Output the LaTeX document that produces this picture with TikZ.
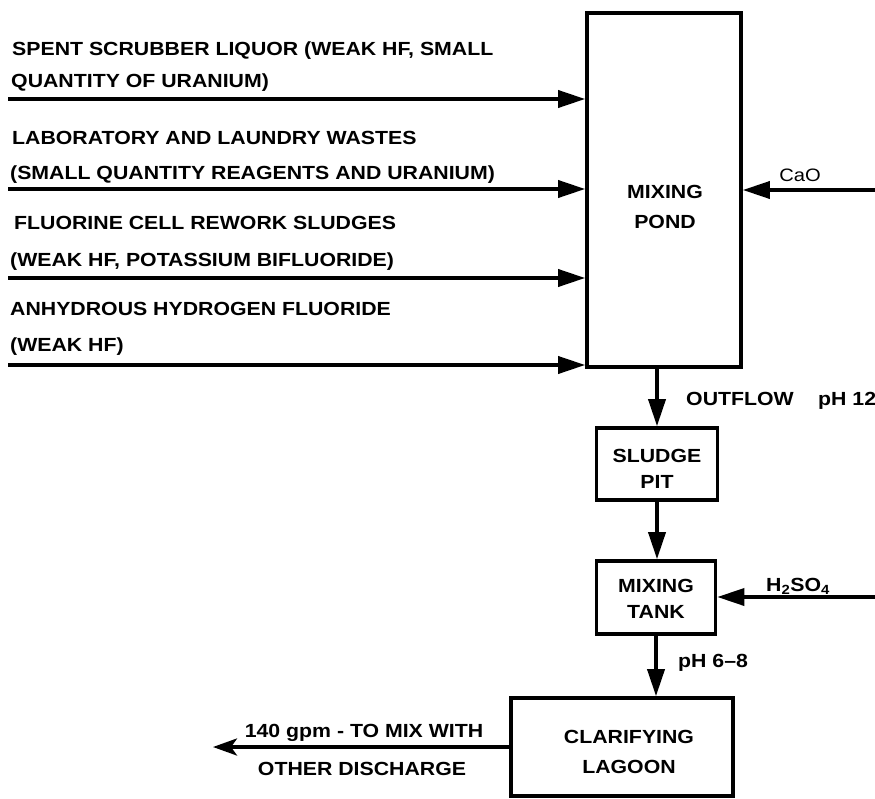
\documentclass[tikz,border=0pt]{standalone}
\usepackage{fontspec}
\setmainfont[FakeStretch=1.12]{Liberation Sans}
\usetikzlibrary{arrows.meta}
\begin{document}
\begin{tikzpicture}[x=1pt,y=-1pt,
  txt/.style={font=\bfseries\fontsize{19}{22}\selectfont, inner sep=0pt},
  lbl/.style={txt, anchor=base west},
  cl/.style={txt, anchor=base},
  box/.style={draw, line width=3.6pt, inner sep=0pt},
  flow/.style={line width=3.6pt, -{Triangle[length=27pt,width=17pt]}},
  outflow/.style={line width=3.6pt, -{Stealth[length=24pt,width=17pt,inset=6pt]}},
]
\useasboundingbox[fill=white] (0,0) rectangle (875,798);
% boxes
\node[box, minimum width=154pt, minimum height=354pt] (pond) at (664,190) {};
\node[cl] (pondl1) at (665,198) {MIXING};
\node[cl] (pondl2) at (665,228) {POND};
\node[box, minimum width=121pt, minimum height=72pt] (pit) at (657,464) {};
\node[cl] (pitl1) at (657,462) {SLUDGE};
\node[cl] (pitl2) at (657,488) {PIT};
\node[box, minimum width=119pt, minimum height=73pt] (tank) at (656,597.5) {};
\node[cl] (tankl1) at (656,592) {MIXING};
\node[cl] (tankl2) at (656,618) {TANK};
\node[box, minimum width=222pt, minimum height=98pt] (lagoon) at (622,747) {};
\node[cl] (lagl1) at (629,743) {CLARIFYING};
\node[cl] (lagl2) at (629,773) {LAGOON};
% input labels
\node[lbl] (a1) at (12,55) {SPENT SCRUBBER LIQUOR (WEAK HF, SMALL};
\node[lbl] (a2) at (11,87) {QUANTITY OF URANIUM)};
\node[lbl] (b1) at (12,144) {LABORATORY AND LAUNDRY WASTES};
\node[lbl] (b2) at (10,179) {(SMALL QUANTITY REAGENTS AND URANIUM)};
\node[lbl] (c1) at (14,229) {FLUORINE CELL REWORK SLUDGES};
\node[lbl] (c2) at (10,266) {(WEAK HF, POTASSIUM BIFLUORIDE)};
\node[lbl] (d1) at (10,315) {ANHYDROUS HYDROGEN FLUORIDE};
\node[lbl] (d2) at (10,351) {(WEAK HF)};
% input arrows
\coordinate (s1) at (8,99);
\coordinate (s2) at (8,189);
\coordinate (s3) at (8,278);
\coordinate (s4) at (8,365);
\draw[flow] (s1) -- (s1 -| pond.west);
\draw[flow] (s2) -- (s2 -| pond.west);
\draw[flow] (s3) -- (s3 -| pond.west);
\draw[flow] (s4) -- (s4 -| pond.west);
% CaO
\coordinate (cao) at (876,190);
\draw[flow] (cao) -- (cao -| pond.east);
\node[txt, font=\fontsize{18}{21}\selectfont, anchor=base] (caolbl) at (800,181) {CaO};
% outflow
\draw[flow] (pond.south -| pit.north) -- (pit.north);
\node[lbl] (outlbl) at (686,405) {OUTFLOW};
\node[lbl] (ph12) at (818,405) {pH 12};
\draw[flow] (pit.south) -- (pit.south |- tank.north);
% H2SO4
\coordinate (h2) at (876,597);
\draw[flow] (h2) -- (h2 -| tank.east);
\node[txt, anchor=base west] (h2lbl) at (766,591) {H\textsubscript{2}SO\textsubscript{4}};
\draw[flow] (tank.south) -- (tank.south |- lagoon.north);
\node[lbl] (ph68) at (678,667) {pH 6--8};
% output
\coordinate (out) at (213,748);
\draw[outflow] (lagoon.west) -- (lagoon.west -| out);
\node[cl] (o1) at (364,737) {140 gpm - TO MIX WITH};
\node[cl] (o2) at (362,775) {OTHER DISCHARGE};
\end{tikzpicture}
\end{document}
